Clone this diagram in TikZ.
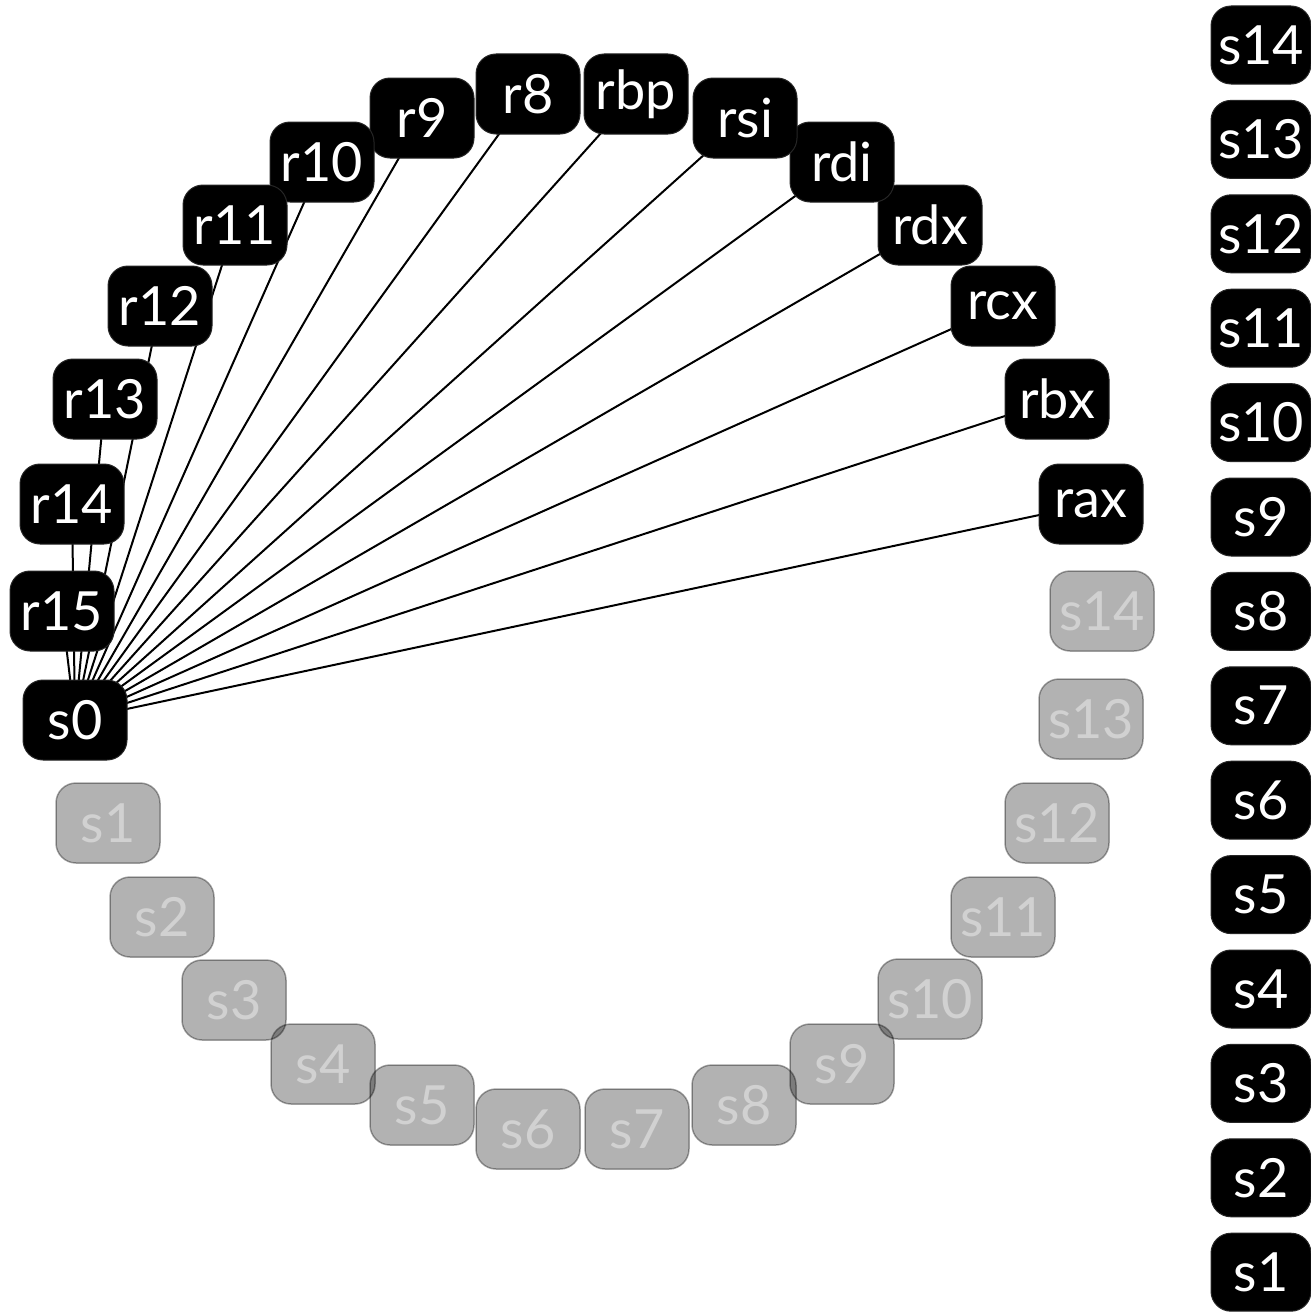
\documentclass[tikz,border=0pt]{standalone}
\usepackage{fontspec}
\setmainfont{Lato}
\usetikzlibrary{backgrounds}
\tikzset{
  reg/.style={rounded corners=20pt, minimum width=104pt, minimum height=80pt, inner sep=0pt,
    fill=black, draw=black!85, line width=1pt, text=white, font=\fontsize{54}{54}\selectfont},
  slot/.style={rounded corners=20pt, minimum width=104pt, minimum height=80pt, inner sep=0pt,
    fill=black, fill opacity=0.3, draw=black, draw opacity=0.35, line width=1.5pt,
    text=white, text opacity=0.4, font=\fontsize{54}{54}\selectfont},
  link/.style={draw=black, line width=2pt}
}
\begin{document}
\begin{tikzpicture}[x=1pt,y=-1pt]
\useasboundingbox (0,0) rectangle (1310,1314);
% ring of registers
\node[reg] (rax) at (1091,504) {rax};
\node[reg] (rbx) at (1057,399) {rbx};
\node[reg] (rcx) at (1003,306) {rcx};
\node[reg] (rdx) at (930,225) {rdx};
\node[reg] (rdi) at (842,162) {rdi};
\node[reg] (rsi) at (745,118) {rsi};
\node[reg] (rbp) at (636,94) {rbp};
\node[reg] (r8) at (528,94) {r8};
\node[reg] (r9) at (422,118) {r9};
\node[reg] (r10) at (322,162) {r10};
\node[reg] (r11) at (235,225) {r11};
\node[reg] (r12) at (160,306) {r12};
\node[reg] (r13) at (105,399) {r13};
\node[reg] (r14) at (72,504) {r14};
\node[reg] (r15) at (62,611) {r15};
\node[reg] (s0) at (75,720) {s0};
% faded slots
\node[slot] (c1) at (108,823) {s1};
\node[slot] (c2) at (162,917) {s2};
\node[slot] (c3) at (234,1000) {s3};
\node[slot] (c4) at (323,1064) {s4};
\node[slot] (c5) at (422,1105) {s5};
\node[slot] (c6) at (528,1129) {s6};
\node[slot] (c7) at (637,1129) {s7};
\node[slot] (c8) at (744,1105) {s8};
\node[slot] (c9) at (842,1064) {s9};
\node[slot] (c10) at (930,999) {s10};
\node[slot] (c11) at (1003,917) {s11};
\node[slot] (c12) at (1057,823) {s12};
\node[slot] (c13) at (1091,719) {s13};
\node[slot] (c14) at (1102,611) {s14};
% right column
\foreach \i [count=\k from 0] in {14,13,...,1} {
  \node[reg, minimum width=100pt, minimum height=78pt] (col\i) at (1261,{45+94.4*\k}) {s\i};
}
\begin{scope}[on background layer]
\foreach \t in {rax,rbx,rcx,rdx,rdi,rsi,rbp,r8,r9,r10,r11,r12,r13,r14,r15}
  \draw[link] (s0.center) -- (\t.center);
\end{scope}
\end{tikzpicture}
\end{document}
